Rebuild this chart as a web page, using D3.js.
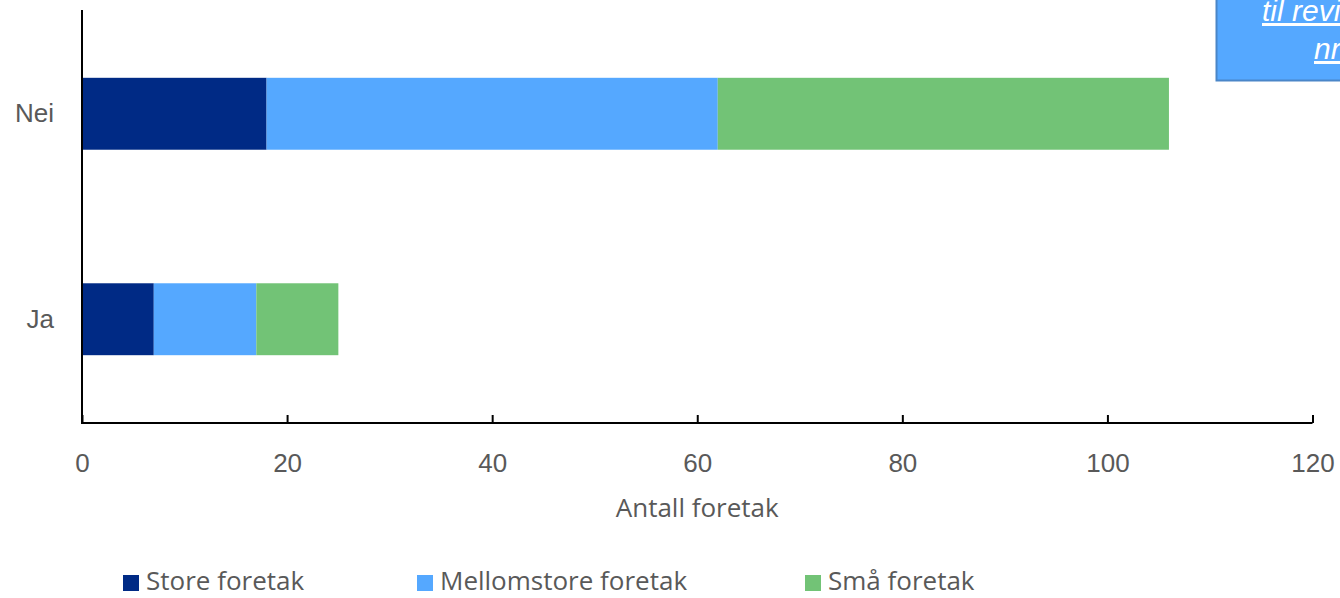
<!DOCTYPE html>
<html>
<head>
<meta charset="utf-8">
<script src="https://cdn.jsdelivr.net/npm/d3@7"></script>
<style>
  html, body { margin: 0; padding: 0; background: #fff; overflow: hidden; }
  svg { display: block; font-family: "Open Sans", "Noto Sans", sans-serif; }
</style>
</head>
<body>
<svg id="chart" width="1340" height="598"></svg>
<script>
// Categories (top to bottom) and series
const categories = ["Nei", "Ja"];
const seriesNames = ["Store foretak", "Mellomstore foretak", "Små foretak"];
const storeValues = [18, 7];
const mellomstoreValues = [44, 10];
const smaValues = [44, 8];
const xTicks = [0, 20, 40, 60, 80, 100, 120];
const xTitle = "Antall foretak";
const noteLines = ["til revisjon", "nr"];

const colors = ["#002a85", "#55a8ff", "#72c376"];
const textColor = "#595959";
const fontSize = "26px";

const rows = categories.map((c, i) => ({
  cat: c,
  "Store foretak": storeValues[i],
  "Mellomstore foretak": mellomstoreValues[i],
  "Små foretak": smaValues[i]
}));
const stacked = d3.stack().keys(seriesNames)(rows);

const svg = d3.select("#chart");

const x = d3.scaleLinear().domain([0, 120]).range([82, 1312.5]);
const y = d3.scaleBand().domain(categories).range([10, 423]).paddingInner(0.65).paddingOuter(0.33);

// Bars
svg.append("g").selectAll("g")
  .data(stacked)
  .join("g")
  .attr("fill", (d, i) => colors[i])
  .selectAll("rect")
  .data(d => d)
  .join("rect")
  .attr("x", d => x(d[0]))
  .attr("y", d => y(d.data.cat))
  .attr("width", d => x(d[1]) - x(d[0]))
  .attr("height", y.bandwidth());

// X axis with inward ticks
const xAxis = svg.append("g")
  .attr("transform", "translate(0,423)")
  .call(d3.axisBottom(x).tickValues(xTicks).tickSize(-8).tickPadding(0).tickFormat(d3.format("d")));
xAxis.select(".domain").attr("stroke", "#000").attr("stroke-width", 2).attr("d", `M${x(0)},0H${x(120)}`);
xAxis.selectAll(".tick line").attr("stroke", "#000").attr("stroke-width", 2);
xAxis.selectAll(".tick text")
  .attr("y", 49)
  .attr("dy", null)
  .attr("fill", textColor)
  .style("font-size", fontSize);

// Y axis (line only, labels to the left)
const yAxis = svg.append("g")
  .attr("transform", `translate(${x(0)},0)`)
  .call(d3.axisLeft(y).tickSize(0).tickPadding(28));
yAxis.select(".domain").attr("stroke", "#000").attr("stroke-width", 2).attr("d", "M0,10V424");
yAxis.selectAll(".tick text")
  .attr("fill", textColor)
  .style("font-size", fontSize);

// Axis title
svg.append("text")
  .attr("x", (x(0) + x(120)) / 2)
  .attr("y", 517)
  .attr("text-anchor", "middle")
  .attr("fill", textColor)
  .style("font-size", fontSize)
  .text(xTitle);

// Legend
const legendX = [123, 417, 805];
const lg = svg.append("g").selectAll("g")
  .data(seriesNames)
  .join("g")
  .attr("transform", (d, i) => `translate(${legendX[i]},575)`);
lg.append("rect").attr("width", 16).attr("height", 16).attr("fill", (d, i) => colors[i]);
lg.append("text")
  .attr("x", 23).attr("y", 15)
  .attr("fill", textColor)
  .style("font-size", fontSize)
  .text(d => d);

// Link note box in the corner
const note = svg.append("g");
note.append("rect")
  .attr("x", 1216.5).attr("y", -10)
  .attr("width", 140).attr("height", 90.5)
  .attr("fill", "#55a8ff")
  .attr("stroke", "#4a86c8")
  .attr("stroke-width", 2);
note.selectAll("text")
  .data(noteLines)
  .join("text")
  .attr("x", (d, i) => i === 0 ? 1262 : 1314)
  .attr("y", (d, i) => 21 + i * 38)
  .attr("fill", "#fff")
  .style("font-size", "30px")
  .style("font-style", "italic")
  .style("font-family", "Arial, 'Liberation Sans', sans-serif")
  .style("text-decoration", "underline")
  .text(d => d);
</script>
</body>
</html>
